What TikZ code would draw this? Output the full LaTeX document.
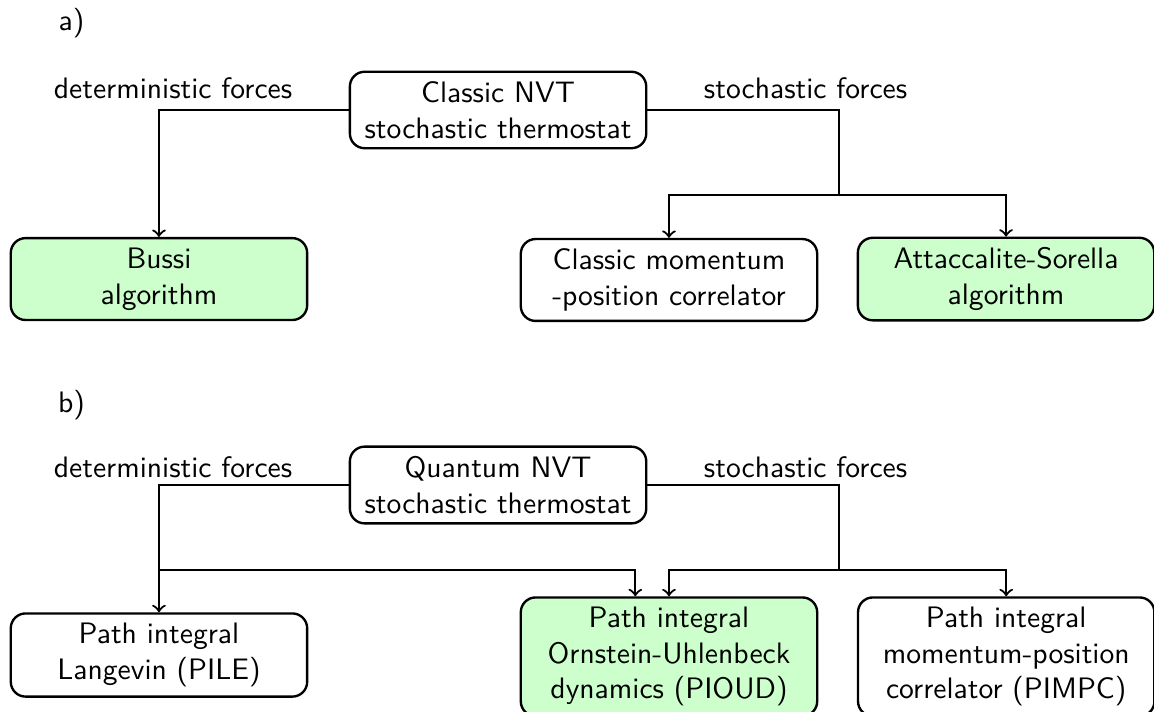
\documentclass[tikz,border=0pt]{standalone}
\usepackage{tikz}

\begin{document}
\begin{tikzpicture}[font=\sffamily, main/.style={draw, rectangle, rounded corners=5pt, line width=0.8pt, align=center, minimum width=3.52cm}, sel/.style={main, fill=green!20}, n/.style={->, line width=0.75pt}]
                \useasboundingbox (0,0) rectangle (13.705,-8.444);
                % a) nodes
                \node (la) at (0.85,-0.27) {a)};
                \node[main] (CNVT) at (5.915,-1.306) {Classic NVT\\stochastic thermostat};
                \node[sel] (Bussi) at (1.888,-3.314) {Bussi\\algorithm};
                \node[main] (CMPC) at (7.945,-3.325) {Classic momentum\\-position correlator};
                \node[sel] (AS) at (11.948,-3.314) {Attaccalite-Sorella\\algorithm};
                \node (detA) at (2.055,-1.045) {deterministic forces};
                \node (stoA) at (9.567,-1.045) {stochastic forces};
                \coordinate (ja) at (9.964,-2.316);
                % a) edges
                \draw [n] (CNVT.west) -| (Bussi.north);
                \draw [line width=0.75pt] (CNVT.east) -| (ja);
                \draw [n] (ja) -| (CMPC.north);
                \draw [n] (ja) -| (AS.north);
                % b) nodes
                \node (lb) at (0.85,-4.81) {b)};
                \node[main] (QNVT) at (5.915,-5.760) {Quantum NVT\\stochastic thermostat};
                \node[main] (PILE) at (1.888,-7.779) {Path integral\\Langevin (PILE)};
                \node[sel] (PIOUD) at (7.945,-7.800) {Path integral\\Ornstein-Uhlenbeck\\dynamics (PIOUD)};
                \node[main] (PIMPC) at (11.95,-7.800) {Path integral\\momentum-position\\correlator (PIMPC)};
                \node (detB) at (2.055,-5.546) {deterministic forces};
                \node (stoB) at (9.567,-5.546) {stochastic forces};
                \coordinate (jl) at (1.888,-6.770);
                \coordinate (jr) at (9.964,-6.770);
                % b) edges
                \draw [n] (QNVT.west) -| (PILE.north);
                \draw [n] (jl) -| ([xshift=-0.4cm]PIOUD.north);
                \draw [line width=0.75pt] (QNVT.east) -| (jr);
                \draw [n] (jr) -| (PIOUD.north);
                \draw [n] (jr) -| (PIMPC.north);
            \end{tikzpicture}
\end{document}
